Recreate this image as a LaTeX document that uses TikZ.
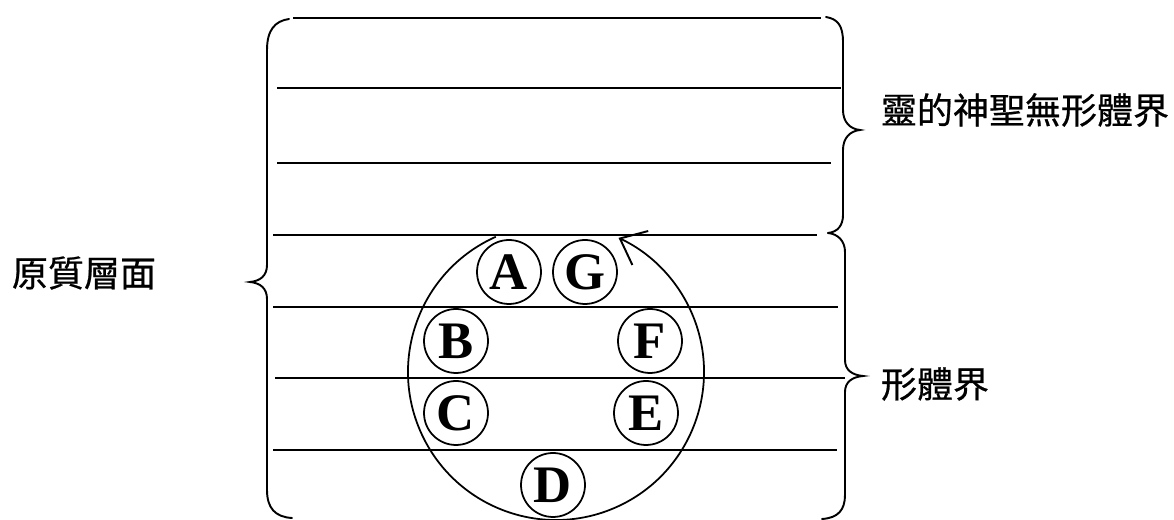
\documentclass[tikz,border=0pt]{standalone}
\usepackage{fontspec}
\newfontfamily\cjkfont[FakeBold=0.6]{Noto Sans CJK TC}
\newfontfamily\letterfont{Liberation Serif}
\usetikzlibrary{arrows.meta}

\begin{document}
\begin{tikzpicture}[
  x=0.02cm, y=0.02cm,
  stratum/.style={line width=1.1pt},
  bracket/.style={line width=1.1pt,line cap=round},
  realm/.style={font=\cjkfont\fontsize{20.5}{24}\selectfont,inner sep=0pt},
  monad/.style={draw,circle,line width=1pt,minimum size=1.28cm,
    inner sep=0pt,font=\letterfont\bfseries\fontsize{30}{32}\selectfont},
  orbit/.style={line width=1pt},
  >={Straight Barb[length=4.5mm,width=7.5mm,line width=1.1pt]}
]
  \useasboundingbox (0,0) rectangle (1174,520);

  % strata
  \draw[stratum] (293,502) -- (821,502);
  \draw[stratum] (277,432) -- (841,432);
  \draw[stratum] (277,357) -- (831,357);
  \draw[stratum] (273,285) -- (817,285);
  \draw[stratum] (273,213) -- (838,213);
  \draw[stratum] (275,142) -- (845,142);
  \draw[stratum] (273,70) -- (837,70);

  % braces
  \draw[bracket] (289,501) .. controls (275,499) and (267,490) .. (267,470)
    -- (267,255) .. controls (267,244) and (260,239) .. (250,238)
    .. controls (260,237) and (267,232) .. (267,221)
    -- (267,30) .. controls (267,12) and (275,3) .. (292,2);
  \draw[bracket] (826,503) .. controls (838,501) and (843,494) .. (843,478)
    -- (843,410) .. controls (843,398) and (850,391) .. (860,390)
    .. controls (850,389) and (843,382) .. (843,370)
    -- (843,305) .. controls (843,295) and (838,288) .. (828,287);
  \draw[bracket] (828,287) .. controls (838,286) and (845,279) .. (845,268)
    -- (845,160) .. controls (845,150) and (852,145) .. (863,144)
    .. controls (852,143) and (845,138) .. (845,128)
    -- (845,25) .. controls (845,10) and (838,2) .. (822,1);

  % orbit
  \coordinate (orbitc) at (556,148);
  \draw[orbit,->] (orbitc) ++(114:148) arc[start angle=114,end angle=425,radius=148];

  \node[monad] (A) at (509,248) {A};
  \node[monad] (G) at (585,248) {G};
  \node[monad] (B) at (456,179) {B};
  \node[monad] (F) at (650,179) {F};
  \node[monad] (C) at (456,107) {C};
  \node[monad] (E) at (646,107) {E};
  \node[monad] (D) at (553,35) {D};

  \node[realm] (upperrealm) at (1025,410) {靈的神聖無形體界};
  \node[realm] (formrealm) at (935,136) {形體界};
  \node[realm] (plane) at (84,247) {原質層面};
\end{tikzpicture}
\end{document}
